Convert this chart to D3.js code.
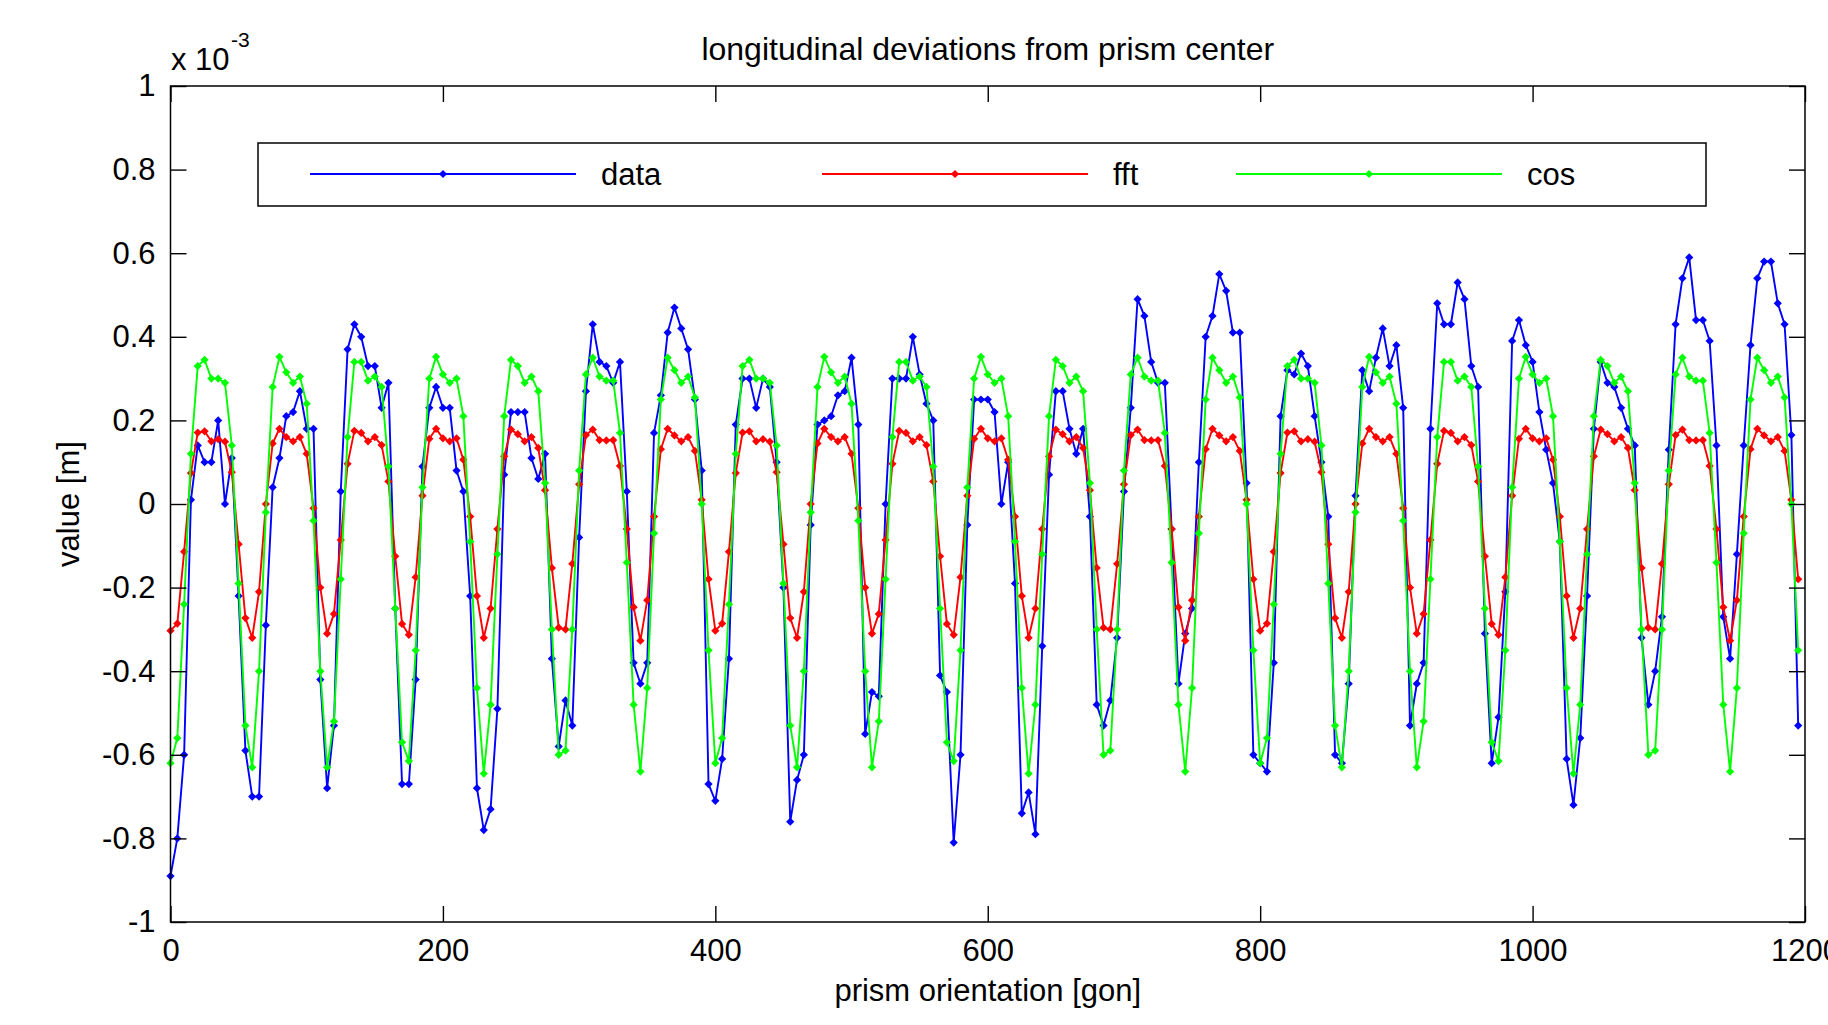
<!DOCTYPE html>
<html>
<head>
<meta charset="utf-8">
<script src="https://cdn.jsdelivr.net/npm/d3@7"></script>
<style>
  html, body { margin: 0; padding: 0; background: #fff; }
  svg { display: block; }
</style>
</head>
<body>
<svg id="chart" width="1828" height="1025"></svg>
<script>
// prism orientation sampled every 5 gon over three turns
const orientation = d3.range(0, 1200, 5);

// values in units of 1e-3 m
const dataVals = [
  -0.89,-0.80,-0.60,0.01,0.14,0.10,0.10,0.20,0.00,0.11,-0.22,-0.59,-0.70,-0.70,-0.29,0.04,0.11,0.21,0.22,0.27,
  0.18,0.18,-0.42,-0.68,-0.53,0.03,0.37,0.43,0.40,0.33,0.33,0.23,0.29,-0.25,-0.67,-0.67,-0.42,0.09,0.23,0.28,
  0.23,0.23,0.08,0.03,-0.22,-0.68,-0.78,-0.73,-0.49,0.07,0.22,0.22,0.22,0.11,0.06,0.12,-0.37,-0.58,-0.47,-0.53,
  -0.08,0.27,0.43,0.34,0.33,0.29,0.34,0.03,-0.38,-0.43,-0.38,0.17,0.26,0.41,0.47,0.42,0.37,0.25,0.08,-0.67,
  -0.71,-0.61,-0.37,0.19,0.30,0.30,0.23,0.30,0.28,0.10,-0.20,-0.76,-0.66,-0.60,-0.05,0.19,0.20,0.21,0.26,0.27,
  0.35,0.19,-0.55,-0.45,-0.46,0.00,0.30,0.30,0.30,0.40,0.31,0.24,0.20,-0.41,-0.45,-0.81,-0.60,-0.05,0.25,0.25,
  0.25,0.22,0.00,0.10,-0.19,-0.74,-0.69,-0.79,-0.34,0.07,0.27,0.27,0.18,0.12,0.18,-0.03,-0.48,-0.53,-0.47,-0.32,
  0.03,0.23,0.49,0.45,0.34,0.29,0.29,-0.06,-0.43,-0.31,-0.25,0.10,0.40,0.45,0.55,0.51,0.41,0.41,0.05,-0.60,
  -0.62,-0.64,-0.38,0.21,0.32,0.31,0.36,0.33,0.21,0.10,-0.03,-0.60,-0.62,-0.43,0.02,0.32,0.27,0.35,0.42,0.33,
  0.38,0.23,-0.53,-0.43,-0.38,0.18,0.48,0.43,0.43,0.53,0.49,0.33,0.28,-0.31,-0.62,-0.51,-0.21,0.39,0.44,0.38,
  0.34,0.22,0.13,0.05,-0.09,-0.61,-0.72,-0.56,-0.22,0.18,0.34,0.29,0.28,0.23,0.18,0.14,-0.32,-0.48,-0.40,-0.27,
  0.13,0.43,0.54,0.59,0.44,0.44,0.39,0.14,-0.27,-0.37,-0.12,0.14,0.38,0.54,0.58,0.58,0.48,0.43,0.165,-0.53
];

const fftVals = [
  -0.303,-0.286,-0.114,0.074,0.171,0.174,0.15,0.155,0.149,0.076,-0.096,-0.273,-0.32,-0.21,0.0,0.145,0.18,0.16,0.15,0.16,
  0.12,-0.01,-0.20,-0.31,-0.263,-0.086,0.096,0.175,0.17,0.15,0.16,0.141,0.054,-0.125,-0.287,-0.313,-0.175,0.02,0.156,0.18,
  0.157,0.15,0.157,0.106,-0.03,-0.22,-0.32,-0.25,-0.06,0.114,0.178,0.167,0.15,0.16,0.134,0.033,-0.153,-0.296,-0.30,-0.143,
  0.047,0.165,0.178,0.153,0.152,0.153,0.091,-0.06,-0.247,-0.327,-0.23,-0.03,0.131,0.18,0.164,0.15,0.16,0.127,0.01,-0.18,
  -0.303,-0.286,-0.114,0.074,0.171,0.174,0.15,0.155,0.149,0.076,-0.096,-0.273,-0.32,-0.21,0.0,0.145,0.18,0.16,0.15,0.16,
  0.12,-0.01,-0.20,-0.31,-0.263,-0.086,0.096,0.175,0.17,0.15,0.16,0.141,0.054,-0.125,-0.287,-0.313,-0.175,0.02,0.156,0.18,
  0.157,0.15,0.157,0.106,-0.03,-0.22,-0.32,-0.25,-0.06,0.114,0.178,0.167,0.15,0.16,0.134,0.033,-0.153,-0.296,-0.30,-0.143,
  0.047,0.165,0.178,0.153,0.152,0.153,0.091,-0.06,-0.247,-0.327,-0.23,-0.03,0.131,0.18,0.164,0.15,0.16,0.127,0.01,-0.18,
  -0.303,-0.286,-0.114,0.074,0.171,0.174,0.15,0.155,0.149,0.076,-0.096,-0.273,-0.32,-0.21,0.0,0.145,0.18,0.16,0.15,0.16,
  0.12,-0.01,-0.20,-0.31,-0.263,-0.086,0.096,0.175,0.17,0.15,0.16,0.141,0.054,-0.125,-0.287,-0.313,-0.175,0.02,0.156,0.18,
  0.157,0.15,0.157,0.106,-0.03,-0.22,-0.32,-0.25,-0.06,0.114,0.178,0.167,0.15,0.16,0.134,0.033,-0.153,-0.296,-0.30,-0.143,
  0.047,0.165,0.178,0.153,0.152,0.153,0.091,-0.06,-0.247,-0.327,-0.23,-0.03,0.131,0.18,0.164,0.15,0.16,0.127,0.01,-0.18
];

const cosVals = [
  -0.62,-0.56,-0.24,0.12,0.33,0.345,0.30,0.30,0.29,0.14,-0.19,-0.53,-0.63,-0.40,-0.02,0.28,0.352,0.315,0.29,0.305,
  0.24,-0.04,-0.40,-0.63,-0.52,-0.18,0.16,0.34,0.34,0.295,0.305,0.28,0.09,-0.25,-0.57,-0.615,-0.35,0.04,0.30,0.352,
  0.31,0.29,0.30,0.21,-0.09,-0.44,-0.645,-0.48,-0.12,0.21,0.345,0.33,0.29,0.305,0.27,0.05,-0.30,-0.60,-0.59,-0.30,
  0.08,0.31,0.35,0.305,0.295,0.295,0.17,-0.14,-0.48,-0.64,-0.44,-0.07,0.25,0.35,0.32,0.29,0.305,0.255,0.00,-0.35,
  -0.62,-0.56,-0.24,0.12,0.33,0.345,0.30,0.30,0.29,0.14,-0.19,-0.53,-0.63,-0.40,-0.02,0.28,0.352,0.315,0.29,0.305,
  0.24,-0.04,-0.40,-0.63,-0.52,-0.18,0.16,0.34,0.34,0.295,0.305,0.28,0.09,-0.25,-0.57,-0.615,-0.35,0.04,0.30,0.352,
  0.31,0.29,0.30,0.21,-0.09,-0.44,-0.645,-0.48,-0.12,0.21,0.345,0.33,0.29,0.305,0.27,0.05,-0.30,-0.60,-0.59,-0.30,
  0.08,0.31,0.35,0.305,0.295,0.295,0.17,-0.14,-0.48,-0.64,-0.44,-0.07,0.25,0.35,0.32,0.29,0.305,0.255,0.00,-0.35,
  -0.62,-0.56,-0.24,0.12,0.33,0.345,0.30,0.30,0.29,0.14,-0.19,-0.53,-0.63,-0.40,-0.02,0.28,0.352,0.315,0.29,0.305,
  0.24,-0.04,-0.40,-0.63,-0.52,-0.18,0.16,0.34,0.34,0.295,0.305,0.28,0.09,-0.25,-0.57,-0.615,-0.35,0.04,0.30,0.352,
  0.31,0.29,0.30,0.21,-0.09,-0.44,-0.645,-0.48,-0.12,0.21,0.345,0.33,0.29,0.305,0.27,0.05,-0.30,-0.60,-0.59,-0.30,
  0.08,0.31,0.35,0.305,0.295,0.295,0.17,-0.14,-0.48,-0.64,-0.44,-0.07,0.25,0.35,0.32,0.29,0.305,0.255,0.00,-0.35
];

const xTicks = [0, 200, 400, 600, 800, 1000, 1200];
const yTicks = [-1, -0.8, -0.6, -0.4, -0.2, 0, 0.2, 0.4, 0.6, 0.8, 1];
const seriesNames = ['data', 'fft', 'cos'];
const seriesColors = ['#0000ff', '#ff0000', '#00ff00'];

const FONT = '"Liberation Sans", Arial, Helvetica, sans-serif';
const W = 1828, H = 1025;
const M = { left: 170.5, right: 1805, top: 86, bottom: 922 };

const svg = d3.select('#chart');
svg.append('rect').attr('width', W).attr('height', H).attr('fill', '#fff');

const x = d3.scaleLinear().domain([0, 1200]).range([M.left, M.right]);
const y = d3.scaleLinear().domain([-1, 1]).range([M.bottom, M.top]);

const series = [dataVals, fftVals, cosVals].map((vals, k) => ({
  name: seriesNames[k], color: seriesColors[k], vals
}));

// plot lines + point markers, data first so cos ends on top
const line = d3.line().x((d, i) => x(orientation[i])).y(d => y(d));
const marker = d3.symbol(d3.symbolSquare, 34);
const plotG = svg.append('g');
series.forEach(s => {
  const g = plotG.append('g');
  g.append('path').attr('d', line(s.vals))
    .attr('fill', 'none').attr('stroke', s.color).attr('stroke-width', 1.9)
    .attr('stroke-linejoin', 'round');
  g.selectAll('path.m').data(s.vals).join('path').attr('class', 'm')
    .attr('d', marker)
    .attr('transform', (d, i) => `translate(${x(orientation[i])},${y(d)}) rotate(45)`)
    .attr('fill', s.color);
});

// axes: inward ticks on all four sides
const fmtY = d => String(+d.toFixed(1));
const axG = svg.append('g');
const styleAxis = g => {
  g.attr('font-family', FONT).attr('font-size', 31);
  g.select('.domain').remove();
  g.selectAll('.tick line').attr('stroke', '#000').attr('stroke-width', 1.4);
  g.selectAll('.tick text').attr('fill', '#000');
};
axG.append('g').attr('transform', `translate(${M.left},0)`)
  .call(d3.axisLeft(y).tickValues(yTicks).tickSize(-16).tickPadding(15).tickFormat(fmtY)).call(styleAxis);
axG.append('g').attr('transform', `translate(${M.right},0)`)
  .call(d3.axisRight(y).tickValues(yTicks).tickSize(-16).tickFormat('')).call(styleAxis);
axG.append('g').attr('transform', `translate(0,${M.bottom})`)
  .call(d3.axisBottom(x).tickValues(xTicks).tickSize(-16).tickPadding(17).tickFormat(d3.format('d'))).call(styleAxis);
axG.append('g').attr('transform', `translate(0,${M.top})`)
  .call(d3.axisTop(x).tickValues(xTicks).tickSize(-16).tickFormat('')).call(styleAxis);

svg.append('rect')
  .attr('x', M.left).attr('y', M.top)
  .attr('width', M.right - M.left).attr('height', M.bottom - M.top)
  .attr('fill', 'none').attr('stroke', '#000').attr('stroke-width', 1.5);

// exponent note
svg.append('text').attr('x', 171).attr('y', 70)
  .style('font-family', FONT).style('font-size', '31px').text('x 10');
svg.append('text').attr('x', 231).attr('y', 47)
  .style('font-family', FONT).style('font-size', '21px').text('-3');

// titles
svg.append('text').attr('x', (M.left + M.right) / 2).attr('y', 60)
  .attr('text-anchor', 'middle')
  .style('font-family', FONT).style('font-size', '32px')
  .text('longitudinal deviations from prism center');
svg.append('text').attr('x', (M.left + M.right) / 2).attr('y', 1001)
  .attr('text-anchor', 'middle')
  .style('font-family', FONT).style('font-size', '31px')
  .text('prism orientation [gon]');
svg.append('text').attr('transform', `translate(79,${(M.top + M.bottom) / 2}) rotate(-90)`)
  .attr('text-anchor', 'middle')
  .style('font-family', FONT).style('font-size', '31px')
  .text('value [m]');

// legend box
const legG = svg.append('g');
legG.append('rect').attr('x', 258).attr('y', 143).attr('width', 1448).attr('height', 63)
  .attr('fill', '#fff').attr('stroke', '#000').attr('stroke-width', 1.5);
const legX = [310, 822, 1236];
series.forEach((s, k) => {
  const x0 = legX[k], x1 = x0 + 266, ly = 174;
  legG.append('line').attr('x1', x0).attr('x2', x1).attr('y1', ly).attr('y2', ly)
    .attr('stroke', s.color).attr('stroke-width', 1.9);
  legG.append('path').attr('d', marker)
    .attr('transform', `translate(${(x0 + x1) / 2},${ly}) rotate(45)`).attr('fill', s.color);
  legG.append('text').attr('x', x1 + 25).attr('y', ly + 11)
    .style('font-family', FONT).style('font-size', '31px').text(s.name);
});
</script>
</body>
</html>
